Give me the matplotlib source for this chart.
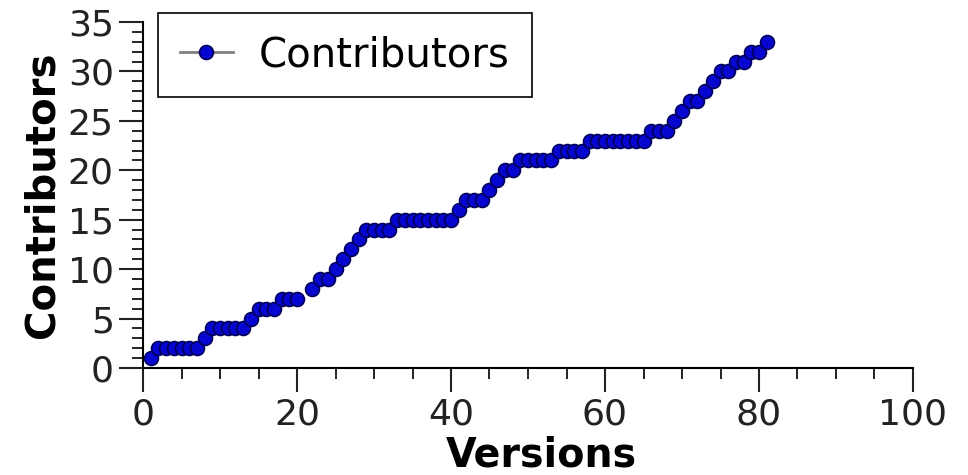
import numpy as np
import matplotlib
matplotlib.use("Agg")
import matplotlib.pyplot as plt
from matplotlib.ticker import MultipleLocator

# version index (1..81), version 21 has no value
versions = list(range(1, 82))
contributors = [
    1, 2, 2, 2, 2, 2, 2, 3, 4, 4,
    4, 4, 4, 5, 6, 6, 6, 7, 7, 7,
    None, 8, 9, 9, 10, 11, 12, 13, 14, 14,
    14, 14, 15, 15, 15, 15, 15, 15, 15, 15,
    16, 17, 17, 17, 18, 19, 20, 20, 21, 21,
    21, 21, 21, 22, 22, 22, 22, 23, 23, 23,
    23, 23, 23, 23, 23, 24, 24, 24, 25, 26,
    27, 27, 28, 29, 30, 30, 31, 31, 32, 32,
    33,
]
y = np.array([np.nan if v is None else v for v in contributors], dtype=float)

fig = plt.figure(figsize=(9.68, 4.75), dpi=100)
ax = fig.add_axes([143 / 968, 1 - 368 / 475, 770 / 968, 346 / 475])

ax.plot(versions, y, color="#808080", lw=2, marker="o", markersize=10,
        markerfacecolor="#0606d0", markeredgecolor="#00005a",
        markeredgewidth=1.2, label="Contributors")

ax.set_xlim(0, 100)
ax.set_ylim(0, 35)
ax.xaxis.set_major_locator(MultipleLocator(20))
ax.xaxis.set_minor_locator(MultipleLocator(5))
ax.yaxis.set_major_locator(MultipleLocator(5))
ax.yaxis.set_minor_locator(MultipleLocator(1))

for side in ["top", "right"]:
    ax.spines[side].set_visible(False)
for side in ["left", "bottom"]:
    ax.spines[side].set_linewidth(1.5)

ax.tick_params(which="major", direction="out", length=17, width=1.5,
               labelsize=26, colors="#222222", labelcolor="#222222", pad=4)
ax.tick_params(which="minor", direction="out", length=8, width=1.2)

ax.set_xlabel("Versions", fontsize=28.5, fontweight="bold")
ax.xaxis.set_label_coords(0.518, -0.195)
ax.set_ylabel("Contributors", fontsize=29, fontweight="bold", labelpad=4)

leg = ax.legend(loc="upper left", bbox_to_anchor=(158 / 968, 1 - 13 / 475),
                bbox_transform=fig.transFigure, borderaxespad=0,
                fontsize=29, fancybox=False, framealpha=1,
                edgecolor="black", handlelength=1.3, handletextpad=0.65,
                borderpad=0.55)
leg.get_frame().set_linewidth(1.2)

plt.savefig("out.png", dpi=100)
